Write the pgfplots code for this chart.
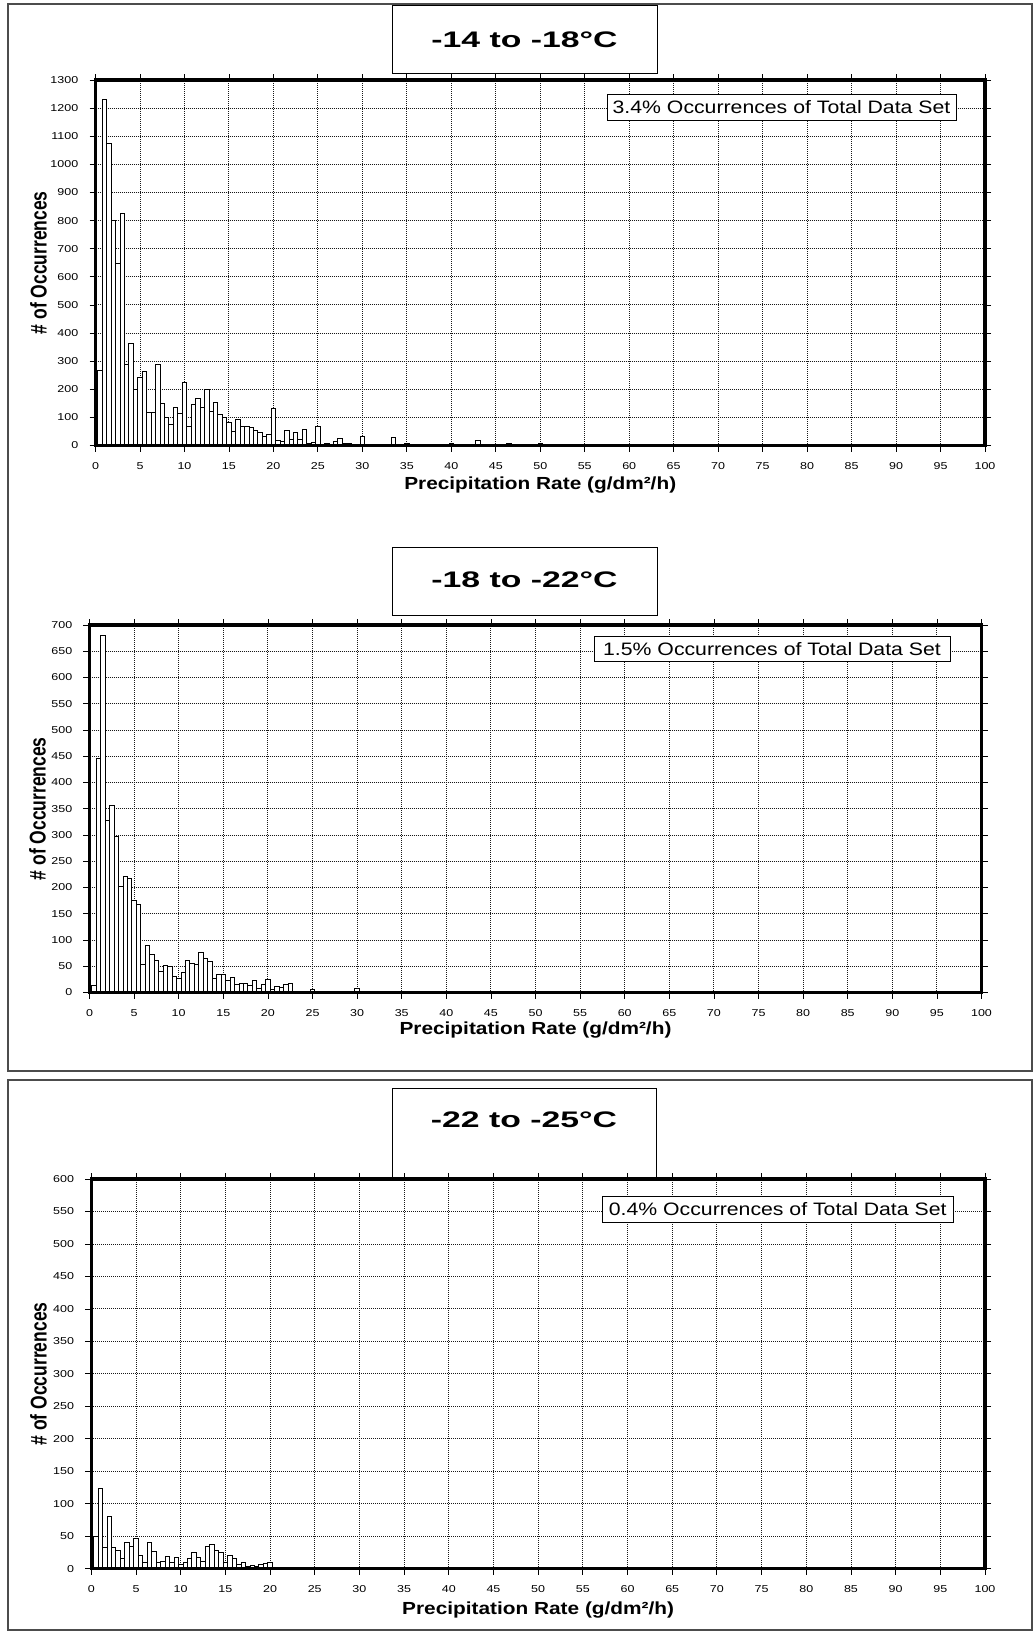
\documentclass[border=0pt]{standalone}
\usepackage{fontspec}
\setmainfont{Liberation Sans}
\usepackage{graphicx}
\usepackage{pgfplots}
\usepackage{pgfplotstable}
\pgfplotsset{compat=1.18}
\newcommand{\hs}[2]{\scalebox{#1}[1]{#2}}

\pgfplotstableread{
x y
0.5 267
1 1230
1.5 1076
2 799
2.5 648
3 827
3.5 289
4 364
4.5 200
5 243
5.5 263
6 117
6.5 117
7 287
7.5 151
8 99
8.5 76
9 136
9.5 114
10 225
10.5 69
11 145
11.5 168
12 135
12.5 198
13 121
13.5 152
14 109
14.5 99
15 82
15.5 50
16 93
16.5 68
17 68
17.5 66
18 53
18.5 45
19 34
19.5 39
20 133
20.5 19
21 16
21.5 53
22 20
22.5 45
23 21
23.5 56
24 7
24.5 12
25 68
25.5 4
26 6
26.5 4
27 14
27.5 24
28 6
28.5 6
29 4
29.5 2
30 32
31 2
31.5 3
32 3
33 3
33.5 30
35 7
36.5 3
37 3
37.5 3
38 3
40 9
43 18
46.5 7
50 7
}\dataA

\pgfplotstableread{
x y
0.5 13
1 446
1.5 680
2 328
2.5 356
3 298
3.5 202
4 221
4.5 217
5 175
5.5 167
6 54
6.5 89
7 72
7.5 61
8 41
8.5 52
9 49
9.5 30
10 26
10.5 39
11 62
11.5 56
12 54
12.5 77
13 65
13.5 60
14 27
14.5 34
15 34
15.5 24
16 28
16.5 15
17 18
17.5 18
18 13
18.5 23
19 7
19.5 15
20 25
20.5 5
21 12
21.5 9
22 15
22.5 18
23 2
24.5 1
25 6
30 8
}\dataB

\pgfplotstableread{
x y
0.5 49
1 123
1.5 33
2 81
2.5 33
3 28
3.5 16
4 41
4.5 35
5 47
5.5 21
6 10
6.5 40
7 27
7.5 10
8 11
8.5 19
9 9
9.5 18
10 6
10.5 10
11 16
11.5 25
12 18
12.5 12
13 34
13.5 38
14 28
14.5 25
15 9
15.5 21
16 16
16.5 7
17 9
17.5 4
18 5
18.5 4
19 6
19.5 8
20 9
21 1
22 1
23 1
25 1
}\dataC

\pgfplotsset{
  histo/.style={
    scale only axis, anchor=north west,
    xmin=0, xmax=100, ymin=0,
    xtick={0,5,...,100},
    scaled x ticks=false, scaled y ticks=false,
    clip=false,
    grid=major,
    grid style={black!90, line width=0.9pt, dash pattern=on 1pt off 1pt},
    axis line style={line width=3.5pt, black},
    tick align=outside, major tick length=6pt,
    tick style={black, line width=0.8pt},
    xticklabel={\hs{1.25}{\pgfmathprintnumber[assume math mode=true,1000 sep={}]{\tick}}},
    yticklabel={\hs{1.25}{\pgfmathprintnumber[assume math mode=true,1000 sep={}]{\tick}}},
    ticklabel style={font=\fontsize{10}{11}\selectfont},
    xticklabel style={anchor=north, inner sep=0pt, yshift=-11pt},
    yticklabel style={anchor=east, inner sep=0pt, xshift=-11pt},
    xlabel={\hs{1.19}{\bfseries Precipitation Rate (g/dm²/h)}},
    ylabel={\scalebox{1}[1.3]{\bfseries \# of Occurrences}},
    label style={font=\fontsize{17.5}{20}\selectfont},
  },
  histbar/.style={ybar, bar width=0.5, fill=white, draw=black, line width=0.8pt},
}

\begin{document}
\begin{tikzpicture}
\useasboundingbox (0pt,0pt) rectangle (1033pt,-1631pt);
\draw[line width=1.5pt, black!70] (8pt,-4pt) rectangle (1032pt,-1071pt);
\draw[line width=1.5pt, black!70] (8pt,-1080pt) rectangle (1032pt,-1630pt);

% title boxes
\draw[line width=1pt] (392pt,-5.5pt) rectangle (657pt,-73pt);
\node[font=\fontsize{22.5}{25}\selectfont\bfseries] at (524.5pt,-40pt) {\hs{1.5}{-14 to -18°C}};
\draw[line width=1pt] (392pt,-547pt) rectangle (657pt,-615pt);
\node[font=\fontsize{22.5}{25}\selectfont\bfseries] at (524.5pt,-580pt) {\hs{1.5}{-18 to -22°C}};
\draw[line width=1pt] (392pt,-1088pt) rectangle (656pt,-1179pt);
\node[font=\fontsize{22.5}{25}\selectfont\bfseries] at (524pt,-1120pt) {\hs{1.5}{-22 to -25°C}};

\begin{axis}[histo, at={(95.5pt,-80pt)}, width=889.5pt, height=365.5pt,
  ymax=1300, ytick distance=100,
  xlabel style={at={(axis description cs:0.5,-0.108)}, anchor=center},
  ylabel style={at={(axis description cs:-0.064,0.5)}, anchor=center}]
\addplot[histbar] table {\dataA};
\draw[line width=3.5pt] (rel axis cs:0,0) rectangle (rel axis cs:1,1);
\end{axis}

\begin{axis}[histo, at={(89.5pt,-625pt)}, width=892pt, height=367.5pt,
  ymax=700, ytick distance=50,
  xlabel style={at={(axis description cs:0.5,-0.102)}, anchor=center},
  ylabel style={at={(axis description cs:-0.0583,0.5)}, anchor=center}]
\addplot[histbar] table {\dataB};
\draw[line width=3.5pt] (rel axis cs:0,0) rectangle (rel axis cs:1,1);
\end{axis}

\begin{axis}[histo, at={(91.3pt,-1179pt)}, width=893.7pt, height=389.7pt,
  ymax=600, ytick distance=50,
  xlabel style={at={(axis description cs:0.5,-0.106)}, anchor=center},
  ylabel style={at={(axis description cs:-0.059,0.5)}, anchor=center}]
\addplot[histbar] table {\dataC};
\draw[line width=3.5pt] (rel axis cs:0,0) rectangle (rel axis cs:1,1);
\end{axis}

% annotation boxes
\node[draw=black, line width=1pt, fill=white, minimum width=349pt, minimum height=26pt, inner sep=0pt, font=\fontsize{18}{20}\selectfont] at (781.5pt,-107pt) {\hs{1.18}{3.4\% Occurrences of Total Data Set}};
\node[draw=black, line width=1pt, fill=white, minimum width=356pt, minimum height=25pt, inner sep=0pt, font=\fontsize{18}{20}\selectfont] at (772pt,-649.2pt) {\hs{1.18}{1.5\% Occurrences of Total Data Set}};
\node[draw=black, line width=1pt, fill=white, minimum width=350.7pt, minimum height=26pt, inner sep=0pt, font=\fontsize{18}{20}\selectfont] at (777.7pt,-1209.3pt) {\hs{1.18}{0.4\% Occurrences of Total Data Set}};
\end{tikzpicture}
\end{document}
